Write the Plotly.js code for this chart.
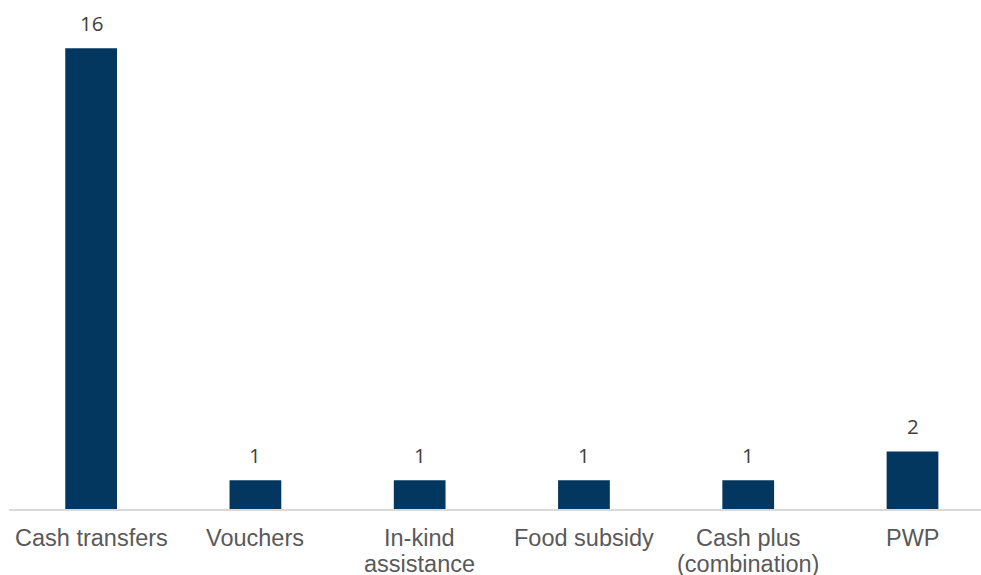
<!DOCTYPE html>
<html>
<head>
<meta charset="utf-8">
<script src="https://cdn.plot.ly/plotly-3.0.1.min.js"></script>
<style>html,body{margin:0;padding:0;background:#fff;}#chart{width:981px;height:575px;}</style>
</head>
<body>
<div id="chart"></div>
<script>
var categories = ["Cash transfers", "Vouchers", "In-kind\nassistance", "Food subsidy", "Cash plus\n(combination)", "PWP"];
var values = [16, 1, 1, 1, 1, 2];

var barColor = "#03375f";
var xs = categories.map(function (c, i) { return i; });

var annotations = [];
values.forEach(function (v, i) {
  annotations.push({
    x: i, y: v, xref: "x", yref: "y",
    text: String(v), showarrow: false,
    xanchor: "center", yanchor: "middle", yshift: 25,
    font: {family: "Open Sans, sans-serif", size: 20.5, color: "#404040"}
  });
});
categories.forEach(function (c, i) {
  c.split("\n").forEach(function (line, j) {
    annotations.push({
      x: i, y: 0, xref: "x", yref: "y",
      text: line, showarrow: false,
      xanchor: "center", yanchor: "middle", yshift: -(28.5 + j * 26),
      font: {family: "Liberation Sans, Arial, sans-serif", size: 23.5, color: "#595959"}
    });
  });
});

Plotly.newPlot("chart", [{
  type: "bar",
  x: xs,
  y: values,
  width: 0.315,
  marker: {color: barColor},
  hoverinfo: "skip"
}], {
  width: 981, height: 575,
  margin: {l: 9, r: 0, t: 10, b: 66},
  paper_bgcolor: "#ffffff", plot_bgcolor: "#ffffff",
  showlegend: false,
  xaxis: {
    range: [-0.5, 5.417], showticklabels: false, ticks: "",
    showgrid: false, zeroline: false, showline: true,
    linecolor: "#d9d9d9", linewidth: 1.5, fixedrange: true
  },
  yaxis: {
    range: [0, 17.33], showticklabels: false, ticks: "",
    showgrid: false, zeroline: false, showline: false, fixedrange: true
  },
  annotations: annotations
}, {displayModeBar: false, staticPlot: true});
</script>
</body>
</html>
